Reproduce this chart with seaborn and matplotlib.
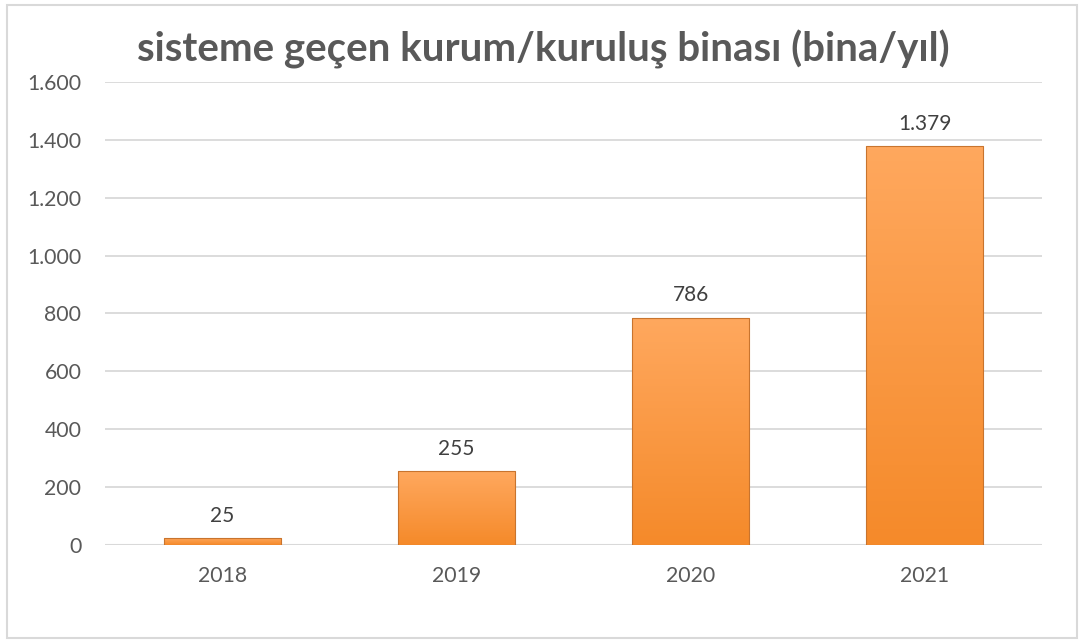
import matplotlib
matplotlib.use("Agg")
import matplotlib.pyplot as plt
import matplotlib.patches as mpatches
from matplotlib.colors import LinearSegmentedColormap
from matplotlib.ticker import FuncFormatter
import numpy as np
import pandas as pd
import seaborn as sns

years = ["2018", "2019", "2020", "2021"]
buildings = [25, 255, 786, 1379]
title = "sisteme geçen kurum/kuruluş binası (bina/yıl)"

sns.set_theme(style="white")
plt.rcParams["font.family"] = ["Lato", "DejaVu Sans"]

df = pd.DataFrame({"yil": years, "bina": buildings})

fig = plt.figure(figsize=(10.83, 6.43), dpi=100)
ax = fig.add_axes([0.097, 0.1524, 0.865, 0.7201])

# chart border
fig.patches.append(mpatches.Rectangle((7 / 1083, 5 / 643), 1070 / 1083, 633 / 643,
                                      transform=fig.transFigure, fill=False,
                                      edgecolor="#D9D9D9", lw=1.5))

sns.barplot(data=df, x="yil", y="bina", color="#FFA04D", width=0.5,
            edgecolor="#C8742E", linewidth=0.8, saturation=1, ax=ax, zorder=3)

# vertical gradient fill on each bar
grad = LinearSegmentedColormap.from_list("org", ["#F58A2A", "#FFA85E"])
for p in ax.patches:
    x0, y0 = p.get_x(), p.get_y()
    w, h = p.get_width(), p.get_height()
    img = ax.imshow(np.linspace(0, 1, 100).reshape(-1, 1), cmap=grad,
                    extent=[x0, x0 + w, y0, y0 + h], origin="lower",
                    aspect="auto", zorder=3.5)
    img.set_clip_path(p)
    p.set_facecolor("none")
    p.set_zorder(4)

for i, v in enumerate(buildings):
    ax.text(i, v + 42, f"{v:,}".replace(",", "."), ha="center", va="bottom",
            fontsize=15, color="#404040")

ax.set_xlim(-0.5, len(years) - 0.5)
ax.set_ylim(0, 1600)
ax.set_yticks(range(0, 1601, 200))
ax.yaxis.set_major_formatter(FuncFormatter(lambda v, _: f"{int(v):,}".replace(",", ".")))
ax.grid(axis="y", color="#D9D9D9", lw=1.3, zorder=0)
for s in ax.spines.values():
    s.set_visible(False)
ax.axhline(0, color="#D9D9D9", lw=1.5, zorder=2)
ax.tick_params(axis="both", length=0, labelsize=15.3, labelcolor="#595959")
ax.tick_params(axis="y", pad=17)
ax.tick_params(axis="x", pad=15)
ax.set_xlabel("")
ax.set_ylabel("")

fig.text(0.502, 0.893, title, ha="center", va="bottom", fontsize=29,
         fontweight="bold", color="#595959")

fig.savefig("out.png", dpi=100)
